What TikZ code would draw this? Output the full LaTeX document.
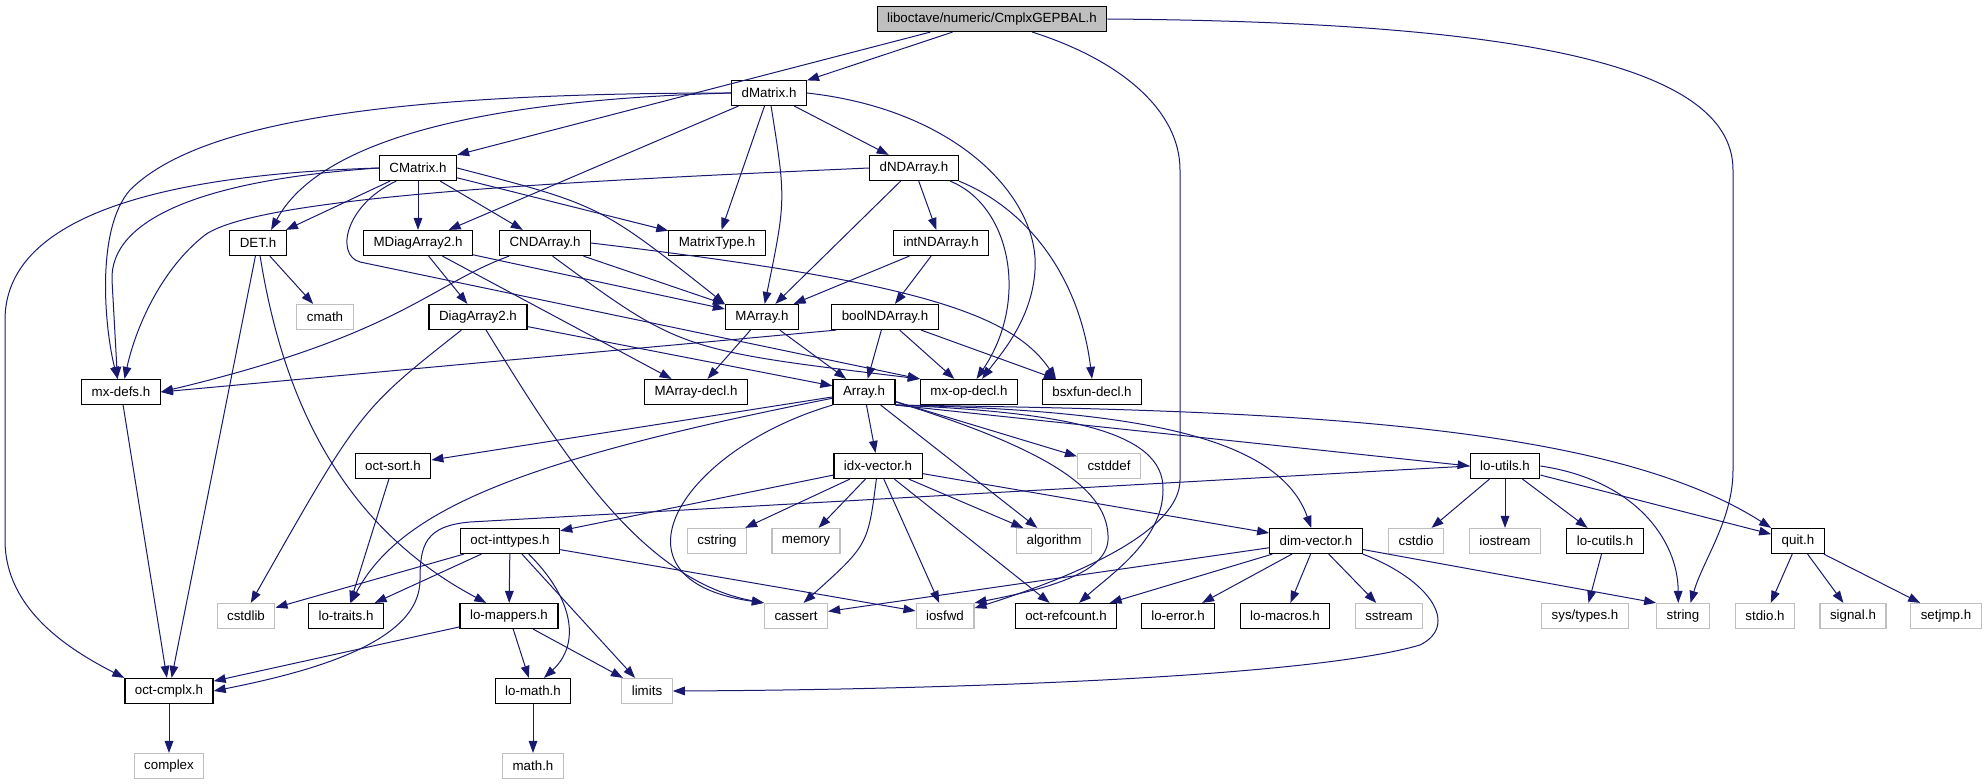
\documentclass[tikz,border=0pt]{standalone}
\usepackage{fontspec}
\setmainfont{Liberation Sans}
\usepackage{tikz}
\usetikzlibrary{arrows.meta}
\definecolor{edgeblue}{HTML}{191970}
\definecolor{grey75}{HTML}{BFBFBF}
\tikzset{
	hdr/.style = {draw = black, line width = 0.9pt, fill = white, minimum height = 18.75pt, inner xsep = 7.5pt, inner ysep = 0pt, font = \fontsize{10}{12}\selectfont},
	sys/.style = {hdr, draw = grey75},
	dep/.style = {draw = edgeblue, line width = 0.75pt, -{Triangle[length = 9pt, width = 6.5pt]}}
}

\begin{document}
\begin{tikzpicture}[x = 0.75pt, y = -0.75pt]
	\useasboundingbox (0, 0) rectangle (1988, 784);

	\node[hdr, fill = grey75] (top) at (992, 19) {liboctave/numeric/CmplxGEPBAL.h};
	\node[hdr] (dmatrix) at (769, 93) {dMatrix.h};
	\foreach \nd/\px/\lbl in {cmatrix/418/CMatrix.h, dndarray/914/dNDArray.h}
	\node[hdr] (\nd) at (\px, 168) {\lbl};
	\foreach \nd/\px/\lbl in {det/258/DET.h, mdiag/418/MDiagArray2.h, cndarray/545/CNDArray.h, mtype/717/MatrixType.h, intnd/941/intNDArray.h}
	\node[hdr] (\nd) at (\px, 243) {\lbl};
	\node[sys] (cmath) at (325, 317) {cmath};
	\foreach \nd/\px/\lbl in {diag/478/DiagArray2.h, marray/762/MArray.h, boolnd/885/boolNDArray.h}
	\node[hdr] (\nd) at (\px, 317) {\lbl};
	\foreach \nd/\px/\lbl in {mxdefs/121/mx-defs.h, marraydecl/696/MArray-decl.h, array/864/Array.h, mxopdecl/969/mx-op-decl.h, bsxfun/1092/bsxfun-decl.h}
	\node[hdr] (\nd) at (\px, 392) {\lbl};
	\foreach \nd/\px/\lbl in {octsort/393/oct-sort.h, idxvec/878/idx-vector.h, loutils/1505/lo-utils.h}
	\node[hdr] (\nd) at (\px, 466) {\lbl};
	\node[sys] (cstddef) at (1109, 466) {cstddef};
	\foreach \nd/\px/\lbl in {octint/510/oct-inttypes.h, dimvec/1316/dim-vector.h, locutils/1605/lo-cutils.h, quit/1798/quit.h}
	\node[hdr] (\nd) at (\px, 541) {\lbl};
	\foreach \nd/\px/\lbl in {cstring/717/cstring, memory/806/memory, algorithm/1054/algorithm, cstdio/1416/cstdio, iostream/1505/iostream}
	\node[sys] (\nd) at (\px, 541) {\lbl};
	\foreach \nd/\px/\lbl in {lotraits/346/lo-traits.h, lomappers/509/lo-mappers.h, octrefcount/1066/oct-refcount.h, loerror/1178/lo-error.h, lomacros/1285/lo-macros.h}
	\node[hdr] (\nd) at (\px, 616) {\lbl};
	\foreach \nd/\px/\lbl in {cstdlib/246/cstdlib, cassert/796/cassert, iosfwd/945/iosfwd, sstream/1389/sstream, string/1683/string, stdioh/1765/stdio.h, signalh/1853/signal.h, setjmp/1946/setjmp.h}
	\node[sys] (\nd) at (\px, 616) {\lbl};
	\node[sys] (systypes) at (1585, 616) {sys/types.h};
	\foreach \nd/\px/\lbl in {octcmplx/169/oct-cmplx.h, lomath/533/lo-math.h}
	\node[hdr] (\nd) at (\px, 691) {\lbl};
	\node[sys] (limits) at (647, 691) {limits};
	\foreach \nd/\px/\lbl in {complex/169/complex, mathh/533/math.h}
	\node[sys] (\nd) at (\px, 766) {\lbl};

	\foreach \src/\dst in {top/dmatrix, dmatrix/mtype, dmatrix/dndarray, dmatrix/mdiag,
		cmatrix/det, cmatrix/mdiag, cmatrix/cndarray, cmatrix/mtype, det/cmath, det/octcmplx,
		mdiag/diag, mdiag/marray, mdiag/marraydecl, cndarray/marray, dndarray/marray, dndarray/intnd,
		intnd/marray, intnd/boolnd, boolnd/array, boolnd/mxopdecl, boolnd/bsxfun,
		marray/marraydecl, marray/array, diag/array, mxdefs/octcmplx,
		array/octsort, array/idxvec, array/cstddef, array/algorithm,
		idxvec/octint, idxvec/cstring, idxvec/memory, idxvec/iosfwd, idxvec/octrefcount, idxvec/algorithm, idxvec/dimvec,
		octsort/lotraits, loutils/cstdio, loutils/iostream, loutils/locutils, loutils/quit, locutils/systypes,
		quit/stdioh, quit/signalh, quit/setjmp,
		dimvec/cassert, dimvec/octrefcount, dimvec/loerror, dimvec/lomacros, dimvec/sstream,
		octint/cstdlib, octint/lotraits, octint/lomappers, octint/limits, octint/iosfwd,
		lomappers/octcmplx, lomappers/lomath, lomappers/limits, lomath/mathh, octcmplx/complex}
	\draw[dep] (\src) -- (\dst);

	\draw[dep] (top.192) -- (cmatrix.north east);
	\draw[dep] (top.-18) .. controls (1120, 60) and (1180, 110) .. (1180, 170) -- (1180, 480) .. controls (1180, 530) and (1080, 575) .. (iosfwd.15);
	\draw[dep] (top.east) .. controls (1500, 22) and (1733, 60) .. (1733, 170) -- (1733, 470) .. controls (1733, 520) and (1703, 560) .. (string.60);

	\draw[dep] (dmatrix.west) .. controls (480, 100) and (320, 140) .. (det.45);
	\draw[dep] (dmatrix.west) .. controls (400, 93) and (200, 120) .. (130, 190) .. controls (95, 230) and (105, 330) .. (mxdefs.105);
	\draw[dep] (dmatrix) .. controls (786, 200) .. (marray);
	\draw[dep] (dmatrix.east) .. controls (960, 110) and (1040, 200) .. (1035, 270) .. controls (1032, 320) and (1000, 355) .. (mxopdecl.45);

	\draw[dep] (cmatrix.west) .. controls (150, 175) and (5, 220) .. (5, 320) -- (5, 540) .. controls (5, 610) and (70, 650) .. (octcmplx.north west);
	\draw[dep] (cmatrix.west) .. controls (200, 180) and (110, 220) .. (112, 280) -- (mxdefs.105);
	\draw[dep] (cmatrix.east) .. controls (600, 205) .. (marray.north west);
	\draw[dep] (cmatrix.211) .. controls (345, 205) and (335, 255) .. (360, 262) -- (mxopdecl.north west);

	\draw[dep] (dndarray.west) .. controls (600, 180) and (260, 195) .. (205, 235) .. controls (160, 270) and (135, 330) .. (mxdefs.75);
	\draw[dep] (dndarray.-20) .. controls (1010, 205) and (1030, 300) .. (mxopdecl.60);
	\draw[dep] (dndarray.south east) .. controls (1030, 210) and (1080, 280) .. (bsxfun.north);

	\draw[dep] (det) .. controls (280, 380) and (330, 520) .. (lomappers.150);
	\draw[dep] (cndarray) .. controls (430, 285) and (400, 335) .. (mxdefs.east);
	\draw[dep] (cndarray.-60) .. controls (680, 350) .. (mxopdecl.north west);
	\draw[dep] (cndarray.east) .. controls (900, 280) and (1010, 310) .. (bsxfun.160);
	\draw[dep] (boolnd.195) -- (mxdefs.east);

	\draw[dep] (diag) .. controls (360, 410) .. (cstdlib.70);
	\draw[dep] (diag) .. controls (560, 450) and (640, 580) .. (cassert.north west);

	\draw[dep] (array) .. controls (520, 460) and (400, 510) .. (lotraits.70);
	\draw[dep] (array.south west) .. controls (680, 450) and (600, 580) .. (cassert.north west);
	\draw[dep] (array) .. controls (1050, 450) and (1110, 490) .. (1108, 540) .. controls (1106, 575) and (1040, 590) .. (iosfwd.north east);
	\draw[dep] (array.south east) .. controls (1060, 412) and (1165, 430) .. (1163, 490) .. controls (1163, 540) and (1110, 575) .. (octrefcount.45);
	\draw[dep] (array.south east) .. controls (1150, 410) and (1280, 440) .. (dimvec.110);
	\draw[dep] (array.south east) -- (loutils.west);
	\draw[dep] (array.south east) .. controls (1300, 410) and (1610, 425) .. (quit.north west);

	\draw[dep] (idxvec) .. controls (868, 545) .. (cassert.60);
	\draw[dep] (loutils.west) -- (470, 522) .. controls (425, 526) and (420, 545) .. (420, 580) .. controls (420, 640) and (320, 670) .. (octcmplx.east);
	\draw[dep] (loutils.east) .. controls (1635, 480) and (1678, 540) .. (string.110);
	\draw[dep] (dimvec) -- (string.north west);
	\draw[dep] (dimvec.south east) .. controls (1430, 580) and (1460, 625) .. (1420, 645) .. controls (1300, 680) and (900, 690) .. (limits.east);
	\draw[dep] (octint.-35) .. controls (575, 600) and (580, 645) .. (lomath.50);
\end{tikzpicture}
\end{document}
